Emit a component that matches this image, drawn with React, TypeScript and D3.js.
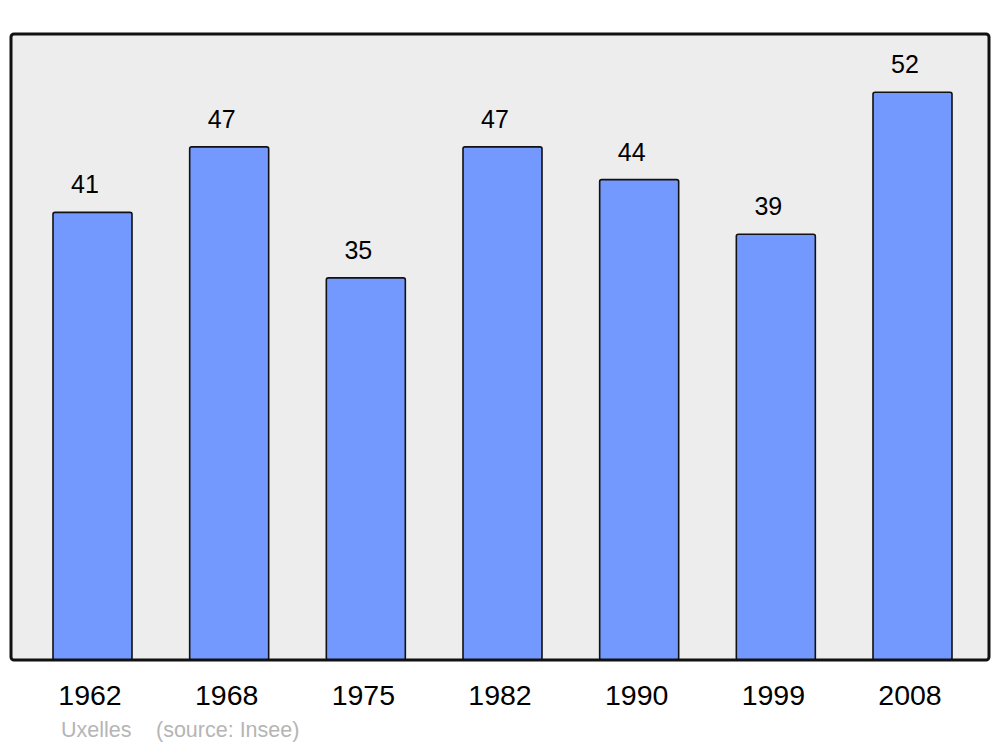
import React from "react";
import * as d3 from "d3";

const years = ["1962", "1968", "1975", "1982", "1990", "1999", "2008"];
const population = [41, 47, 35, 47, 44, 39, 52];
const commune = "Uxelles";
const source = "(source: Insee)";

export default function App() {
  const W = 1000, H = 747;
  const frame = { x0: 11, y0: 34, x1: 989, y1: 660 };
  const x = d3.scaleBand<string>().domain(years).range([53, 952]).paddingInner(0.422).paddingOuter(0);
  const maxV = d3.max(population)!;
  const y = d3.scaleLinear().domain([0, maxV * 1.1]).range([frame.y1, frame.y0 + 1.5]);
  const font = "'Liberation Sans', Arial, sans-serif";
  return (
    <svg width={W} height={H} style={{ position: "absolute", left: 0, top: 0 }} fontFamily={font}>
      <rect x={0} y={0} width={W} height={H} fill="#ffffff" />
      <rect x={frame.x0} y={frame.y0} width={frame.x1 - frame.x0} height={frame.y1 - frame.y0} rx={3} fill="#ededed" stroke="none" />
      {years.map((yr, i) => {
        const bx = x(yr)!;
        const top = y(population[i]);
        return (
          <g key={yr}>
            <rect x={bx} y={top} width={x.bandwidth()} height={frame.y1 - top} rx={2} fill="#7399ff" stroke="#111" strokeWidth={1.6} />
            <text x={bx + x.bandwidth() / 2 - 7.5} y={top - 19} textAnchor="middle" fontSize={25} fill="#000">{population[i]}</text>
            <text x={bx + x.bandwidth() / 2 - 2.5} y={705} textAnchor="middle" fontSize={28.5} fill="#000">{yr}</text>
          </g>
        );
      })}
      <rect x={frame.x0} y={frame.y0} width={frame.x1 - frame.x0} height={frame.y1 - frame.y0} rx={3} fill="none" stroke="#111" strokeWidth={3} />
      <text x={61} y={737} fontSize={21.5} fill="#b5b5b5">{commune}</text>
      <text x={156} y={737} fontSize={21.5} fill="#b5b5b5">{source}</text>
    </svg>
  );
}
